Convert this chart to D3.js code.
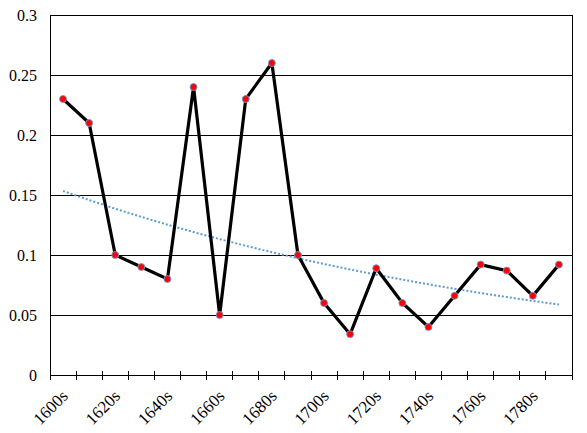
<!DOCTYPE html>
<html><head><meta charset="utf-8">
<script src="https://cdn.jsdelivr.net/npm/d3@7"></script>
<style>body{margin:0;background:#fff}svg{display:block}</style>
</head><body>
<script>
const categories = ["1600s","1610s","1620s","1630s","1640s","1650s","1660s","1670s","1680s","1690s","1700s","1710s","1720s","1730s","1740s","1750s","1760s","1770s","1780s","1790s"];
const values = [0.23,0.21,0.10,0.09,0.08,0.24,0.05,0.23,0.26,0.10,0.06,0.034,0.089,0.06,0.04,0.066,0.092,0.087,0.066,0.092];
const yTicks = [0,0.05,0.1,0.15,0.2,0.25,0.3];
const yTickLabels = ["0","0.05","0.1","0.15","0.2","0.25","0.3"];
const xLabelEvery = 2;

const W=587,H=433, L=50, R=572, T=15, B=375;
const FONT="Liberation Serif";
const svg=d3.select("body").append("svg").attr("width",W).attr("height",H);
const x=d3.scaleBand().domain(categories).range([L,R]);
const y=d3.scaleLinear().domain([0,0.3]).range([B,T]);

// gridlines
svg.append("g").selectAll("line").data(yTicks.slice(1)).join("line")
  .attr("x1",L).attr("x2",R).attr("y1",d=>y(d)).attr("y2",d=>y(d))
  .attr("stroke","#000").attr("stroke-width",1).attr("shape-rendering","crispEdges");
// right border
svg.append("line").attr("x1",R).attr("x2",R).attr("y1",T).attr("y2",B+5)
  .attr("stroke","#000").attr("shape-rendering","crispEdges");

// y axis
const ya=svg.append("g").attr("transform",`translate(${L},0)`)
  .call(d3.axisLeft(y).tickValues(yTicks).tickFormat((d,i)=>yTickLabels[i]).tickSize(0).tickPadding(13));
ya.attr("font-family",FONT).attr("font-size",16);
ya.select(".domain").attr("stroke","#000").attr("shape-rendering","crispEdges");
ya.selectAll("text").attr("fill","#000");

// x axis
const xa=svg.append("g").attr("transform",`translate(0,${B})`)
  .call(d3.axisBottom(x).tickSize(0).tickFormat((d,i)=>i%xLabelEvery===0?d:""));
xa.attr("font-family",FONT).attr("font-size",17);
xa.select(".domain").remove();
xa.append("line").attr("x1",L).attr("x2",R).attr("y1",0).attr("y2",0).attr("stroke","#000").attr("shape-rendering","crispEdges");
xa.selectAll(".bt").data(categories).join("line").attr("class","bt")
  .attr("x1",d=>x(d)).attr("x2",d=>x(d)).attr("y1",-4).attr("y2",5)
  .attr("stroke","#000").attr("shape-rendering","crispEdges");
xa.selectAll(".tick text")
  .attr("fill","#000")
  .attr("text-anchor","end").attr("dy",0).attr("y",0)
  .attr("transform","translate(6,22) rotate(-45)");

const cx=d=>x(d)+x.bandwidth()/2;

// exponential trendline computed from data
const n=values.length, xs=d3.range(1,n+1), ly=values.map(Math.log);
const mx=d3.mean(xs), my=d3.mean(ly);
const b=d3.sum(xs.map((v,i)=>(v-mx)*(ly[i]-my)))/d3.sum(xs.map(v=>(v-mx)*(v-mx)));
const a=my-b*mx;
const trend=categories.map((c,i)=>({c,v:Math.exp(a+b*(i+1))}));
svg.append("path").datum(trend)
  .attr("d",d3.line().x(d=>cx(d.c)).y(d=>y(d.v)))
  .attr("fill","none").attr("stroke","#5b9bd5").attr("stroke-width",2).attr("stroke-dasharray","2,2");

// main line
const data=categories.map((c,i)=>({c,v:values[i]}));
svg.append("path").datum(data)
  .attr("d",d3.line().x(d=>cx(d.c)).y(d=>y(d.v)))
  .attr("fill","none").attr("stroke","#000").attr("stroke-width",3.2).attr("stroke-linejoin","miter");
svg.append("g").selectAll("circle").data(data).join("circle")
  .attr("cx",d=>cx(d.c)).attr("cy",d=>y(d.v)).attr("r",3.5)
  .attr("fill","#ff0000").attr("stroke","#6a9fd8").attr("stroke-width",0.9);
</script>
</body></html>
